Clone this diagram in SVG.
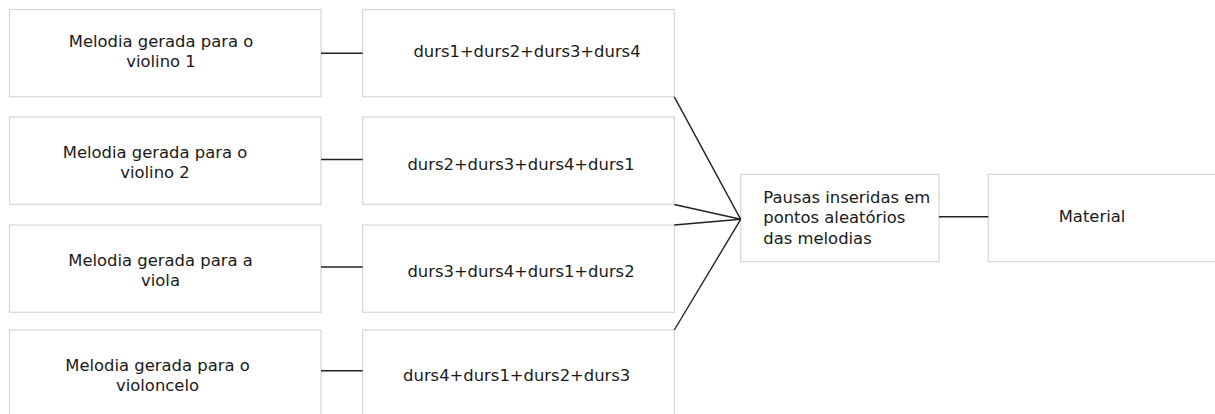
<svg xmlns="http://www.w3.org/2000/svg" width="1215" height="414" viewBox="0 0 1215 414">
  <style>
    .box { fill: #ffffff; stroke: #d6d6d6; stroke-width: 1.2; }
    .lbl { font-family: "DejaVu Sans", "Liberation Sans", sans-serif; font-size: 16.4px; fill: #1a1a1a; }
    .mid { text-anchor: middle; }
    .link { stroke: #222222; stroke-width: 1.4; fill: none; }
  </style>
  <rect width="1215" height="414" fill="#ffffff"/>

  <!-- melody sources -->
  <g id="violino1">
    <rect class="box" x="9.5" y="9.5" width="311.5" height="87.3"/>
    <text class="lbl mid" x="161" y="46.7">Melodia gerada para o</text>
    <text class="lbl mid" x="161" y="66.7">violino 1</text>
  </g>
  <g id="violino2">
    <rect class="box" x="9.5" y="117" width="311.5" height="87.3"/>
    <text class="lbl mid" x="155" y="158">Melodia gerada para o</text>
    <text class="lbl mid" x="155" y="177.7">violino 2</text>
  </g>
  <g id="viola">
    <rect class="box" x="9.5" y="225" width="311.5" height="87.3"/>
    <text class="lbl mid" x="160.5" y="265.7">Melodia gerada para a</text>
    <text class="lbl mid" x="160.5" y="286">viola</text>
  </g>
  <g id="violoncelo">
    <rect class="box" x="9.5" y="330" width="311.5" height="87.3"/>
    <text class="lbl mid" x="157.5" y="370.7">Melodia gerada para o</text>
    <text class="lbl mid" x="157.5" y="391">violoncelo</text>
  </g>

  <!-- duration orderings -->
  <g id="durs1">
    <rect class="box" x="362.7" y="9.5" width="311.6" height="87.3"/>
    <text class="lbl mid" x="527" y="56.7">durs1+durs2+durs3+durs4</text>
  </g>
  <g id="durs2">
    <rect class="box" x="362.7" y="117" width="311.6" height="87.3"/>
    <text class="lbl mid" x="521" y="170">durs2+durs3+durs4+durs1</text>
  </g>
  <g id="durs3">
    <rect class="box" x="362.7" y="225" width="311.6" height="87.3"/>
    <text class="lbl mid" x="521" y="276.7">durs3+durs4+durs1+durs2</text>
  </g>
  <g id="durs4">
    <rect class="box" x="362.7" y="330" width="311.6" height="87.3"/>
    <text class="lbl mid" x="516.7" y="381">durs4+durs1+durs2+durs3</text>
  </g>

  <!-- rests and result -->
  <g id="pausas">
    <rect class="box" x="740.7" y="174.3" width="198.3" height="87.4"/>
    <text class="lbl" x="763.3" y="202.7">Pausas inseridas em</text>
    <text class="lbl" x="763.3" y="223.3">pontos aleatórios</text>
    <text class="lbl" x="763.3" y="244">das melodias</text>
  </g>
  <g id="material">
    <rect class="box" x="988.3" y="174.3" width="240" height="87.4"/>
    <text class="lbl mid" x="1092" y="221.7">Material</text>
  </g>

  <!-- connectors -->
  <g id="connectors">
    <line class="link" x1="321" y1="53.3" x2="362.7" y2="53.3"/>
    <line class="link" x1="321" y1="159.5" x2="362.7" y2="159.5"/>
    <line class="link" x1="321" y1="267" x2="362.7" y2="267"/>
    <line class="link" x1="321" y1="370.7" x2="362.7" y2="370.7"/>
    <line class="link" x1="674.3" y1="96.8" x2="740.7" y2="219.3"/>
    <line class="link" x1="674.3" y1="204.5" x2="740.7" y2="219.3"/>
    <line class="link" x1="674.3" y1="225" x2="740.7" y2="219.3"/>
    <line class="link" x1="674.3" y1="330" x2="740.7" y2="219.3"/>
    <line class="link" x1="939" y1="216.7" x2="988.3" y2="216.7"/>
  </g>
</svg>
